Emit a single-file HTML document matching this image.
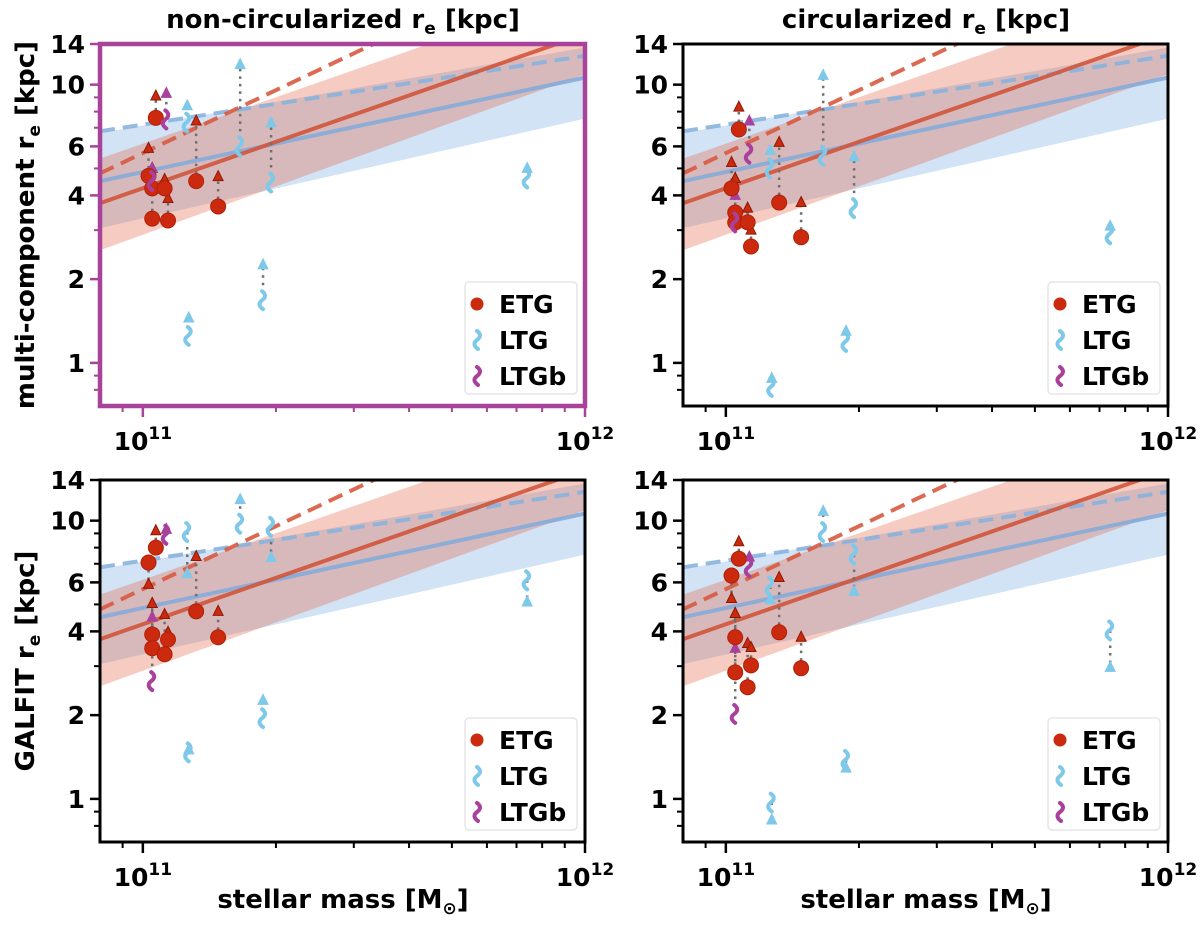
<!DOCTYPE html>
<html><head><meta charset="utf-8"><style>
body{margin:0;background:#fff;}
svg{display:block;font-family:"DejaVu Sans","Liberation Sans",sans-serif;font-weight:bold;}
</style></head><body>
<svg id="fig" width="1200" height="926" viewBox="0 0 1200 926" xmlns="http://www.w3.org/2000/svg">
<defs>
<clipPath id="c0"><rect x="100" y="44" width="485" height="362"/></clipPath>
<clipPath id="c1"><rect x="683" y="44" width="485" height="362"/></clipPath>
<clipPath id="c2"><rect x="100" y="480" width="485" height="362"/></clipPath>
<clipPath id="c3"><rect x="683" y="480" width="485" height="362"/></clipPath>
</defs>
<text x="343" y="28" font-size="26" text-anchor="middle">non-circularized r<tspan font-size="17" dy="6">e</tspan><tspan dy="-6"> [kpc]</tspan></text>
<text x="926" y="28" font-size="26" text-anchor="middle">circularized r<tspan font-size="17" dy="6">e</tspan><tspan dy="-6"> [kpc]</tspan></text>
<text transform="translate(34,225) rotate(-90)" font-size="26" text-anchor="middle">multi-component r<tspan font-size="17" dy="6">e</tspan><tspan dy="-6"> [kpc]</tspan></text>
<text transform="translate(34,661) rotate(-90)" font-size="26" text-anchor="middle">GALFIT r<tspan font-size="17" dy="6">e</tspan><tspan dy="-6"> [kpc]</tspan></text>
<text x="343" y="908" font-size="26" text-anchor="middle">stellar mass [M<tspan font-size="17" dy="6">⊙</tspan><tspan dy="-6">]</tspan></text>
<text x="926" y="908" font-size="26" text-anchor="middle">stellar mass [M<tspan font-size="17" dy="6">⊙</tspan><tspan dy="-6">]</tspan></text>
</svg>
<script>
const masses = [1.03e11,1.05e11,1.05e11,1.07e11,1.12e11,1.14e11,1.32e11,1.48e11,1.05e11,1.13e11,1.26e11,1.27e11,1.66e11,1.87e11,1.95e11,7.4e11];
const types = ['E','E','E','E','E','E','E','E','B','B','L','L','L','L','L','L'];
const tlMarker = [4.7,4.24,3.3,7.6,4.24,3.25,4.5,3.65,4.5,7.5,7.3,1.25,6.0,1.68,4.45,4.6];
const tlTri    = [5.9,5.0,5.0,9.1,4.56,3.9,7.4,4.67,5.0,9.3,8.4,1.45,11.8,2.25,7.3,5.0];
const trMarker = [4.24,3.47,3.2,6.9,3.2,2.62,3.77,2.83,3.2,5.65,5.0,0.82,5.55,1.19,3.6,2.9];
const trTri    = [5.25,4.6,4.6,8.3,3.6,3.0,6.2,3.77,4.0,7.4,5.8,0.88,10.8,1.3,5.5,3.1];
const blMarker = [7.07,3.9,3.48,8.0,3.31,3.74,4.72,3.81,2.65,8.9,9.1,1.47,9.75,1.95,9.5,6.1];
const blTri    = [5.9,5.04,5.04,9.2,4.6,3.97,7.43,4.72,4.5,9.3,6.45,1.5,11.9,2.26,7.37,5.1];
const brMarker = [6.35,3.81,2.85,7.3,2.52,3.02,3.97,2.95,2.02,6.8,5.8,0.97,9.1,1.38,7.55,4.03];
const brTri    = [5.25,4.64,4.64,8.4,3.62,3.5,6.25,3.81,3.48,7.4,5.2,0.84,10.8,1.29,5.57,2.97];
const fitMass = [8e10, 1e12];
const etgSolid = [3.75, 15.2];
const ltgSolid = [4.5, 10.6];
const etgDashed = [4.8, 32];
const ltgDashed = [6.8, 12.7];
const etgBandLow = [2.54, 10.9];
const etgBandHigh = [5.42, 22];
const ltgBandLow = [3.05, 7.55];
const ltgBandHigh = [6.7, 13.6];
const yMajor = [1,2,4,6,10,14];
const yMinor = [0.8,0.9,3,5,7,8,9];
const xMinor = [9e10,2e11,3e11,4e11,5e11,6e11,7e11,8e11,9e11];

const NS='http://www.w3.org/2000/svg';
const svg=document.getElementById('fig');
function mk(tag,attrs,parent){const e=document.createElementNS(NS,tag);for(const k in attrs)e.setAttribute(k,attrs[k]);(parent||svg).appendChild(e);return e;}
const W=485,H=362,XMIN=Math.log10(8e10),XMAX=12,YMIN=Math.log10(0.7),YMAX=Math.log10(14);
const COL={E:'#cc2a0e',L:'#7ec8ea',B:'#a8409c'};

const panels=[
 {x0:100,y0:44,m:tlMarker,t:tlTri,clip:'c0',frame:'#a8439a',name:'top-left'},
 {x0:683,y0:44,m:trMarker,t:trTri,clip:'c1',frame:'#000',name:'top-right'},
 {x0:100,y0:480,m:blMarker,t:blTri,clip:'c2',frame:'#000',name:'bottom-left'},
 {x0:683,y0:480,m:brMarker,t:brTri,clip:'c3',frame:'#000',name:'bottom-right'}];

function squiggle(g,cx,cy,col){
  return mk('path',{d:`M${cx-1},${cy-9} c4,3 4,6 0,9 c-4,3 -3,6 1,9`,fill:'none',stroke:col,'stroke-width':4,'stroke-linecap':'round'},g);
}

panels.forEach((P,pi)=>{
  const xs=m=>P.x0+(Math.log10(m)-XMIN)/(XMAX-XMIN)*W;
  const ys=v=>P.y0+(YMAX-Math.log10(v))/(YMAX-YMIN)*H;
  const g=mk('g',{'clip-path':`url(#${P.clip})`});
  
  
  function band(lo,hi,col,name){
    const pts=[[fitMass[0],lo[0]],[fitMass[1],lo[1]],[fitMass[1],hi[1]],[fitMass[0],hi[0]]].map(p=>xs(p[0])+','+ys(p[1])).join(' ');
    const e=mk('polygon',{points:pts,fill:col,'fill-opacity':0.35},g);
    
    
  }
  band(ltgBandLow,ltgBandHigh,'#7aaee0','ltg-fit-band');
  band(etgBandLow,etgBandHigh,'#e46a50','etg-fit-band');
  function line(v,col,dash,name){
    const e=mk('line',{x1:xs(fitMass[0]),y1:ys(v[0]),x2:xs(fitMass[1]),y2:ys(v[1]),stroke:col,'stroke-width':4,'stroke-opacity':0.9},g);
    if(dash)e.setAttribute('stroke-dasharray','15,8');
    
    
  }
  line(ltgDashed,'#8ab2de',true,'ltg-dashed-fit');
  line(etgDashed,'#d85a40',true,'etg-dashed-fit');
  line(ltgSolid,'#85abd9',false,'ltg-solid-fit');
  line(etgSolid,'#d0553b',false,'etg-solid-fit');
  masses.forEach((m,i)=>{
    const x=xs(m);
    const c=mk('line',{x1:x,y1:ys(P.m[i]),x2:x,y2:ys(P.t[i]),stroke:'#6f6f6f','stroke-width':2.5,'stroke-dasharray':'2.5,5'},g);
    
    
  });
  masses.forEach((m,i)=>{
    const x=xs(m),y=ys(P.t[i]);
    const tr=mk('polygon',{points:`${x},${y-6} ${x-5},${y+4} ${x+5},${y+4}`,fill:COL[types[i]],stroke:types[i]==='E'?'#8a1a05':COL[types[i]],'stroke-width':1},g);
    
    
  });
  masses.forEach((m,i)=>{
    const x=xs(m),y=ys(P.m[i]);
    let e;
    if(types[i]==='E'){e=mk('circle',{cx:x,cy:y,r:7.5,fill:COL.E,stroke:'#b02008','stroke-width':1},g);}
    else e=squiggle(g,x,y,COL[types[i]]);
    
    
  });
  const fw=pi===0?4.5:3;
  const fr=mk('rect',{x:P.x0,y:P.y0,width:W,height:H,fill:'none',stroke:P.frame,'stroke-width':fw});
  
  
  yMajor.forEach(v=>{
    const y=ys(v);
    const t=mk('line',{x1:P.x0-10,y1:y,x2:P.x0,y2:y,stroke:P.frame,'stroke-width':2.5});
    
    
    const l=mk('text',{x:P.x0-15,y:y+9,'font-size':25,'text-anchor':'end'});
    l.textContent=v;
    
    
  });
  yMinor.forEach(v=>{
    const y=ys(v);
    const t=mk('line',{x1:P.x0-6,y1:y,x2:P.x0,y2:y,stroke:P.frame,'stroke-width':2});
    
    
  });
  const yb=P.y0+H;
  [1e11,1e12].forEach(m=>{
    const x=xs(m);
    const t=mk('line',{x1:x,y1:yb,x2:x,y2:yb+11,stroke:P.frame,'stroke-width':2.5});
    
    
    const l=mk('text',{x:x,y:yb+44,'font-size':25,'text-anchor':'middle'});
    
    
    const a=mk('tspan',{},l);a.textContent='10';
    const b=mk('tspan',{'font-size':17,dy:-11});b.textContent=m===1e11?'11':'12';
    l.appendChild(b);
  });
  xMinor.forEach(m=>{
    const x=xs(m);
    const t=mk('line',{x1:x,y1:yb,x2:x,y2:yb+6,stroke:P.frame,'stroke-width':2});
    
    
  });
  const lx=P.x0+365,ly=P.y0+238;
  const lg=mk('g',{});
  
  
  mk('rect',{x:lx,y:ly,width:112,height:112,rx:4,fill:'#fff','fill-opacity':0.8,stroke:'#e0e0e0','stroke-width':1.2},lg);
  const ents=[['E','ETG'],['L','LTG'],['B','LTGb']];
  ents.forEach((en,k)=>{
    const cy=ly+22+k*36;
    let e;
    if(en[0]==='E'){e=mk('circle',{cx:lx+12,cy:cy,r:6.5,fill:COL.E},lg);}
    else e=squiggle(lg,lx+13,cy,COL[en[0]]);
    
    
    const t=mk('text',{x:lx+34,y:cy+9,'font-size':25},lg);
    t.textContent=en[1];
    
    
  });
});
</script>
</body></html>
